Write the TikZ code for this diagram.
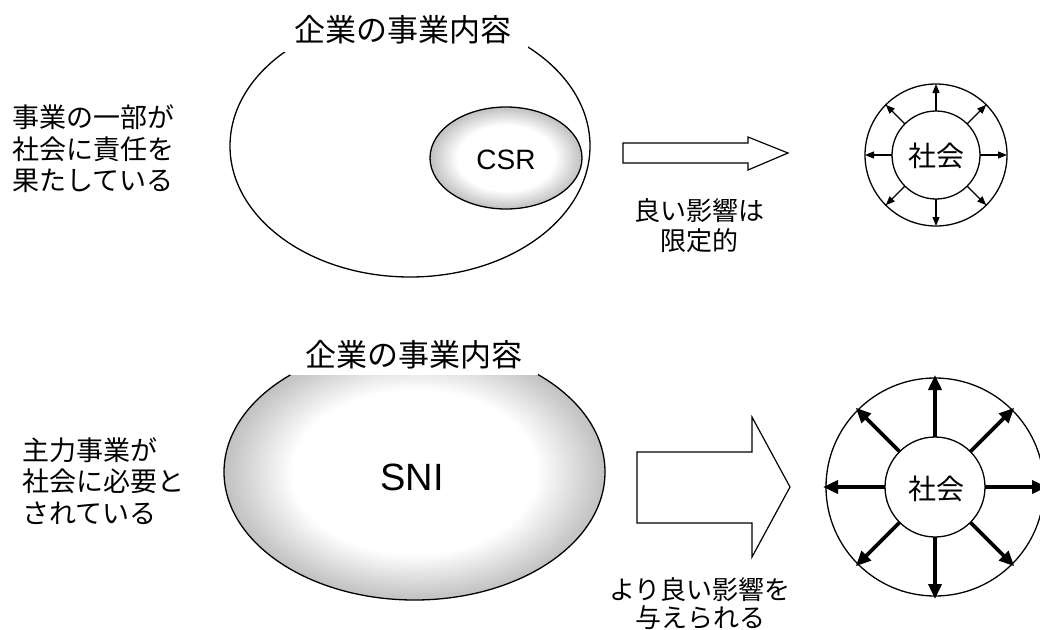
\documentclass[tikz,border=0pt]{standalone}
\usepackage{fontspec}
\newfontfamily\jp{Noto Sans CJK JP}
\newfontfamily\lat{Liberation Sans}
\usetikzlibrary{arrows.meta,calc}
\pgfdeclareradialshading{softedge}{\pgfpoint{0bp}{0bp}}{color(0bp)=(white); color(16bp)=(white); color(24bp)=(black!22); color(25bp)=(black!24); color(50bp)=(black!24)}
\tikzset{
  jptext/.style={font=\jp\fontsize{27}{31.5}\selectfont, align=left, inner sep=0pt},
  midtext/.style={font=\jp\fontsize{26}{30}\selectfont, align=center, inner sep=0pt},
  titletext/.style={font=\jp\fontsize{31}{36}\selectfont, fill=white, inner sep=0pt},
  outline/.style={draw=black, line width=1.3pt},
  blockarrow/.style={draw=black, line width=1.2pt, fill=white, line join=miter},
  thinarr/.style={line width=1.3pt, -{Triangle[length=9pt, width=7pt]}},
  thickarr/.style={line width=3.6pt, -{Triangle[length=15pt, width=13pt]}},
}
\begin{document}
\begin{tikzpicture}[x=1pt, y=-1pt]
\useasboundingbox (0,0) rectangle (1040,629);
\fill[white] (0,0) rectangle (1040,629);

% ---------- top row ----------
\draw[outline] (410,146) ellipse [x radius=180, y radius=131];
\node[titletext, minimum width=250pt, minimum height=44pt] (t1) at (403,30) {企業の事業内容};
\shade[shading=softedge] (506,158) ellipse [x radius=76, y radius=51];
\draw[outline] (506,158) ellipse [x radius=76, y radius=51];
\node[font=\lat\fontsize{28}{30}\selectfont] (csr) at (506,160) {CSR};

\node[jptext, anchor=west] (l1) at (12,149) {事業の一部が\\社会に責任を\\果たしている};

\draw[blockarrow] (623,143) -- (748,143) -- (748,137) -- (788,153) -- (748,170) -- (748,163) -- (623,163) -- cycle;
\node[midtext] (m1) at (699,226) {良い影響は\\限定的};

% society (small)
\coordinate (s1) at (936,155);
\draw[outline] (s1) circle[radius=71];
\draw[outline] (s1) circle[radius=44];
\node[font=\jp\fontsize{28}{30}\selectfont] (soc1) at (936,156) {社会};
\foreach \a in {0,45,...,315}{
  \draw[thinarr] ($(s1)+(\a:44)$) -- ($(s1)+(\a:71)$);
}

% ---------- bottom row ----------
\shade[shading=softedge] (414.5,472) ellipse [x radius=190.5, y radius=128];
\draw[outline] (414.5,472) ellipse [x radius=190.5, y radius=128];
\node[titletext, minimum width=248pt, minimum height=40pt] (t2) at (414,355) {企業の事業内容};
\node[font=\lat\fontsize{38}{40}\selectfont] (sni) at (412,477) {SNI};

\node[jptext, anchor=west] (l2) at (22,481) {主力事業が\\社会に必要と\\されている};

\draw[blockarrow] (637,452) -- (752,452) -- (752,417) -- (790,487) -- (752,557) -- (752,523) -- (637,523) -- cycle;
\node[midtext, font=\jp\fontsize{26}{28}\selectfont] (m2) at (700,604) {より良い影響を\\与えられる};

% society (large)
\coordinate (s2) at (935,487);
\draw[outline] (s2) circle[radius=109];
\draw[outline] (s2) circle[radius=50];
\node[font=\jp\fontsize{28}{30}\selectfont] (soc2) at (936,489) {社会};
\foreach \a in {0,45,...,315}{
  \draw[thickarr] ($(s2)+(\a:50)$) -- ($(s2)+(\a:112)$);
}
\end{tikzpicture}
\end{document}
